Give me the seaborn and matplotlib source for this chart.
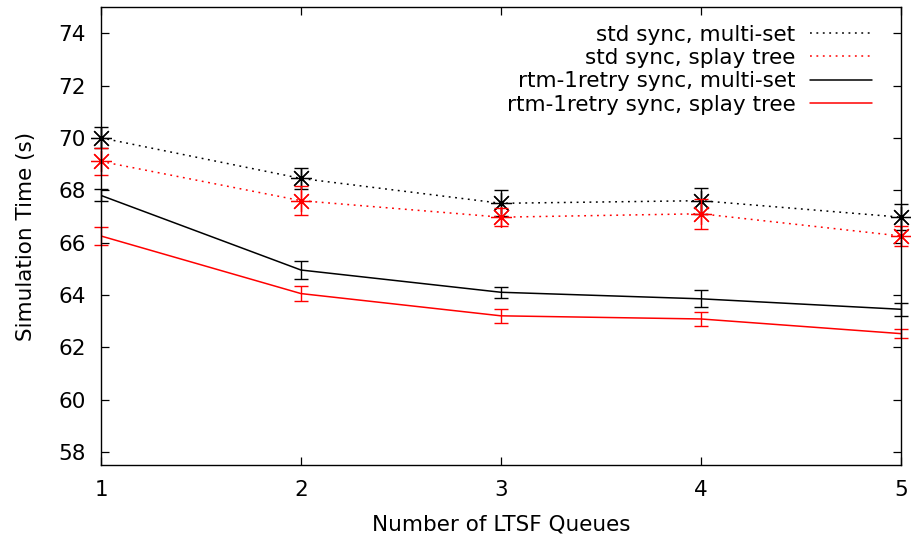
""" Simulation time vs number of LTSF queues. """

import matplotlib as mpl
mpl.use("Agg")
import matplotlib.pyplot as plt
import pandas as pd
import seaborn as sns

queues = [1, 2, 3, 4, 5]

std_multiset = [70.0, 68.45, 67.5, 67.6, 66.97]
std_multiset_err = [0.4, 0.4, 0.5, 0.5, 0.5]
std_splay = [69.1, 67.6, 66.97, 67.1, 66.25]
std_splay_err = [0.5, 0.55, 0.35, 0.57, 0.4]
rtm_multiset = [67.8, 64.95, 64.1, 63.85, 63.45]
rtm_multiset_err = [0.23, 0.35, 0.2, 0.33, 0.25]
rtm_splay = [66.25, 64.05, 63.2, 63.08, 62.52]
rtm_splay_err = [0.33, 0.3, 0.27, 0.27, 0.17]

labels = ["std sync, multi-set", "std sync, splay tree",
          "rtm-1retry sync, multi-set", "rtm-1retry sync, splay tree"]


def main():
    sns.set_style("white")
    plt.rcParams["font.family"] = ["DejaVu Sans"]
    plt.rc("font", size=15.5)
    for key in ["text.color", "axes.labelcolor", "xtick.color", "ytick.color"]:
        plt.rcParams[key] = "black"

    fig = plt.figure(figsize=(9.11, 5.41), dpi=100)
    ax = fig.add_axes([0.1109, 0.1405, 0.878, 0.8465])

    series = [
        (std_multiset, std_multiset_err, "black", (0, (1.2, 3)), True),
        (std_splay, std_splay_err, "red", (0, (1.2, 3)), True),
        (rtm_multiset, rtm_multiset_err, "black", "-", False),
        (rtm_splay, rtm_splay_err, "red", "-", False),
    ]
    for (vals, errs, color, ls, star), label in zip(series, labels):
        df = pd.DataFrame({"queues": queues, "time": vals})
        sns.lineplot(data=df, x="queues", y="time", ax=ax, color=color,
                     linestyle=ls, linewidth=1.1, label=label)
        ax.errorbar(queues, vals, yerr=errs, fmt="none", ecolor=color,
                    elinewidth=1.0, capsize=5, capthick=1.0, clip_on=False)
        if star:
            ax.plot(queues, vals, linestyle="none", marker=(8, 2, 0),
                    markersize=15, markeredgewidth=0.9, color=color,
                    clip_on=False)

    ax.set_xlim(1, 5)
    ax.set_ylim(57.5, 75)
    ax.set_xticks(queues)
    ax.set_yticks(range(58, 75, 2))
    ax.tick_params(direction="in", length=6, width=0.9, top=True, right=True,
                   left=True, bottom=True)
    ax.tick_params(axis="y", pad=11)
    ax.tick_params(axis="x", pad=11)
    for s in ax.spines.values():
        s.set_visible(True)
        s.set_color("black")
        s.set_linewidth(1.0)
    ax.grid(False)
    ax.set_xlabel("Number of LTSF Queues", labelpad=10)
    ax.set_ylabel("Simulation Time (s)", labelpad=16)

    ax.legend(loc="upper right", bbox_to_anchor=(0.98, 0.99), frameon=False,
              markerfirst=False, handlelength=2.9, handletextpad=0.65,
              labelspacing=0.16, borderaxespad=0.2)

    fig.savefig("out.png", dpi=100)
    return 0


if __name__ == "__main__":
    main()
